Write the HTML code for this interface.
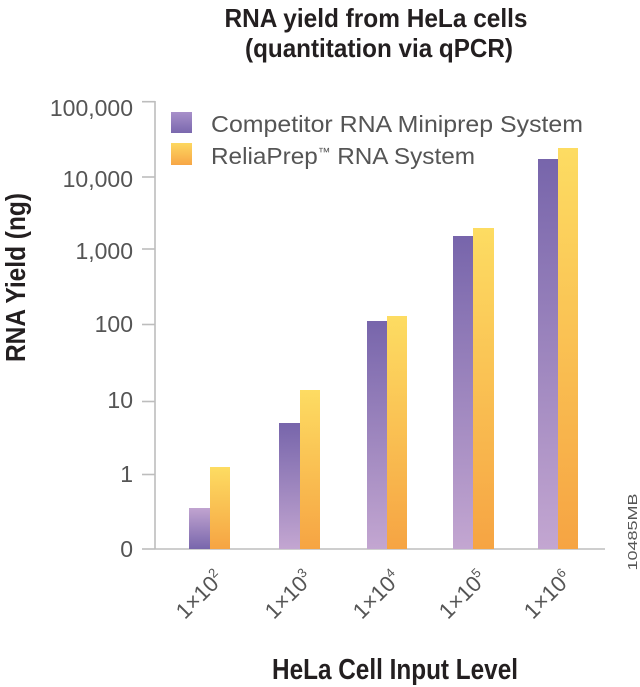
<!DOCTYPE html>
<html>
<head>
<meta charset="utf-8">
<style>
  html, body { margin: 0; padding: 0; background: #ffffff; }
  body { width: 640px; height: 687px; overflow: hidden; }
  svg { display: block; }
  .t { font-family: "Liberation Sans", "DejaVu Sans", sans-serif; }
</style>
</head>
<body>
<svg width="640" height="687" viewBox="0 0 640 687" xmlns="http://www.w3.org/2000/svg">
  <defs>
    <linearGradient id="pur" x1="0" y1="0" x2="0" y2="1">
      <stop offset="0" stop-color="#7765ab"/>
      <stop offset="1" stop-color="#c3a6d1"/>
    </linearGradient>
    <linearGradient id="purRev" x1="0" y1="0" x2="0" y2="1">
      <stop offset="0" stop-color="#c1a4d0"/>
      <stop offset="1" stop-color="#7866ac"/>
    </linearGradient>
    <linearGradient id="org" x1="0" y1="0" x2="0" y2="1">
      <stop offset="0" stop-color="#fddc62"/>
      <stop offset="1" stop-color="#f6a443"/>
    </linearGradient>
    <linearGradient id="legP" x1="0" y1="0" x2="0" y2="1">
      <stop offset="0" stop-color="#a890ca"/>
      <stop offset="1" stop-color="#7a68ae"/>
    </linearGradient>
    <linearGradient id="legO" x1="0" y1="0" x2="0" y2="1">
      <stop offset="0" stop-color="#fdd760"/>
      <stop offset="1" stop-color="#f7a646"/>
    </linearGradient>
  </defs>

  <!-- Title -->
  <text class="t" x="376" y="27" font-size="26" font-weight="bold" fill="#231f20" text-anchor="middle" textLength="303" lengthAdjust="spacingAndGlyphs">RNA yield from HeLa cells</text>
  <text class="t" x="379" y="57" font-size="26" font-weight="bold" fill="#231f20" text-anchor="middle" textLength="268" lengthAdjust="spacingAndGlyphs">(quantitation via qPCR)</text>

  <!-- Legend -->
  <rect x="171" y="112" width="21" height="21" fill="url(#legP)"/>
  <rect x="171" y="143" width="21" height="22" fill="url(#legO)"/>
  <text class="t" x="211" y="132" font-size="23" fill="#555555" textLength="372" lengthAdjust="spacingAndGlyphs">Competitor RNA Miniprep System</text>
  <text class="t" x="211" y="164" font-size="23" fill="#555555" textLength="264" lengthAdjust="spacingAndGlyphs">ReliaPrep<tspan font-size="12" dy="-8">™</tspan><tspan dy="8"> RNA System</tspan></text>

  <!-- Axes -->
  <g stroke="#bdbdbd" stroke-width="1.6" fill="none">
    <line x1="155" y1="101" x2="155" y2="549.5"/>
    <line x1="155" y1="549" x2="605" y2="549"/>
    <line x1="142" y1="101.7" x2="155" y2="101.7"/>
    <line x1="142" y1="177" x2="155" y2="177"/>
    <line x1="142" y1="249" x2="155" y2="249"/>
    <line x1="142" y1="324.5" x2="155" y2="324.5"/>
    <line x1="142" y1="401.5" x2="155" y2="401.5"/>
    <line x1="142" y1="474.5" x2="155" y2="474.5"/>
    <line x1="142" y1="549" x2="155" y2="549"/>
  </g>

  <!-- Y tick labels -->
  <g class="t" font-size="23" fill="#555555" text-anchor="end">
    <text x="133" y="116">100,000</text>
    <text x="133" y="187">10,000</text>
    <text x="133" y="259">1,000</text>
    <text x="133" y="332">100</text>
    <text x="133" y="408">10</text>
    <text x="133" y="482">1</text>
    <text x="133" y="557">0</text>
  </g>

  <!-- Y axis title -->
  <text class="t" transform="translate(25,277.5) rotate(-90)" font-size="28" font-weight="bold" fill="#231f20" text-anchor="middle" textLength="169" lengthAdjust="spacingAndGlyphs">RNA Yield (ng)</text>

  <!-- Bars -->
  <rect x="189" y="508" width="21" height="41" fill="url(#purRev)"/>
  <rect x="210" y="467" width="20" height="82" fill="url(#org)"/>

  <rect x="279" y="423" width="21" height="126" fill="url(#pur)"/>
  <rect x="300" y="390" width="20" height="159" fill="url(#org)"/>

  <rect x="367" y="321" width="20" height="228" fill="url(#pur)"/>
  <rect x="387" y="316" width="20" height="233" fill="url(#org)"/>

  <rect x="453" y="236" width="20" height="313" fill="url(#pur)"/>
  <rect x="473" y="228" width="21" height="321" fill="url(#org)"/>

  <rect x="538" y="159" width="20" height="390" fill="url(#pur)"/>
  <rect x="558" y="148" width="20" height="401" fill="url(#org)"/>

  <!-- X tick labels -->
  <g class="t" font-size="22" fill="#555555" text-anchor="middle">
    <text transform="translate(205,600) rotate(-45)">1×10<tspan dy="-9" font-size="13">2</tspan></text>
    <text transform="translate(294,600) rotate(-45)">1×10<tspan dy="-9" font-size="13">3</tspan></text>
    <text transform="translate(382,600) rotate(-45)">1×10<tspan dy="-9" font-size="13">4</tspan></text>
    <text transform="translate(468,600) rotate(-45)">1×10<tspan dy="-9" font-size="13">5</tspan></text>
    <text transform="translate(553,600) rotate(-45)">1×10<tspan dy="-9" font-size="13">6</tspan></text>
  </g>

  <!-- X axis title -->
  <text class="t" x="395" y="679" font-size="29" font-weight="bold" fill="#231f20" text-anchor="middle" textLength="246" lengthAdjust="spacingAndGlyphs">HeLa Cell Input Level</text>

  <!-- Figure code -->
  <text class="t" transform="translate(637,532) rotate(-90)" font-size="12.5" fill="#555" text-anchor="middle" textLength="77" lengthAdjust="spacingAndGlyphs">10485MB</text>
</svg>
</body>
</html>
